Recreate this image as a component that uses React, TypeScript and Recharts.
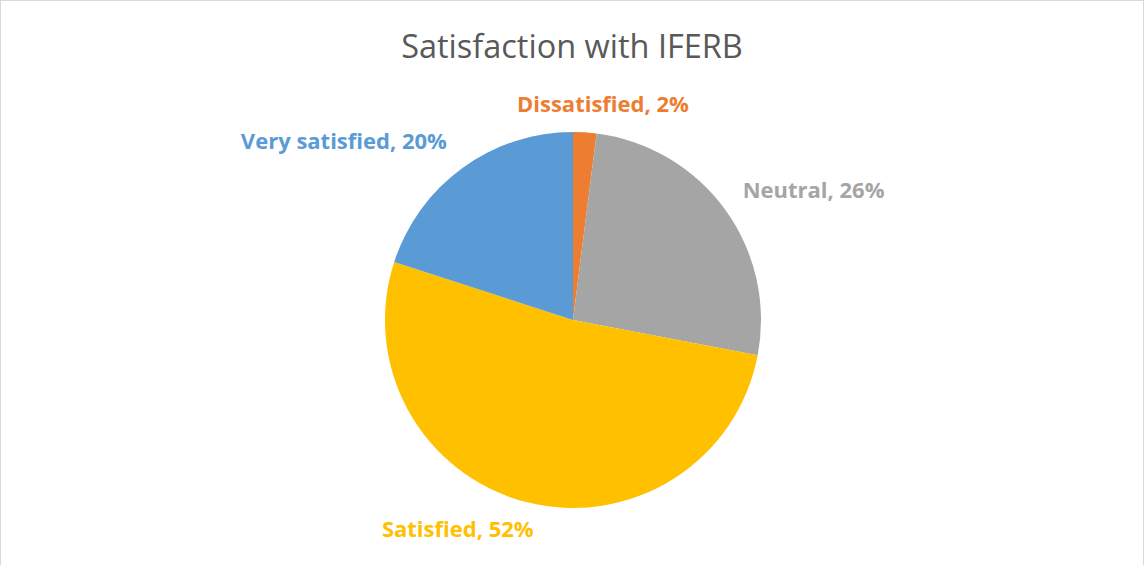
import { Cell, Pie, PieChart } from "recharts";

const CATEGORIES = ["Dissatisfied", "Neutral", "Satisfied", "Very satisfied"];
const SHARES = [2, 26, 52, 20];

const SLICE_COLORS = ["#ED7D31", "#A5A5A5", "#FFC000", "#5B9BD5"];
// small nudges so labels sit where the Excel best-fit placed them
const LABEL_NUDGE: Record<string, [number, number]> = {
  Dissatisfied: [17, -2],
  Neutral: [3, -1],
  Satisfied: [-64, 17],
  "Very satisfied": [-5, -4],
};

const WIDTH = 1144;
const HEIGHT = 565;
const RADIAN = Math.PI / 180;

const data = CATEGORIES.map((name, i) => ({ name, value: SHARES[i] }));

type LabelProps = {
  cx: number;
  cy: number;
  midAngle: number;
  outerRadius: number;
  index: number;
  name: string;
  value: number;
};

function SliceLabel({ cx, cy, midAngle, outerRadius, index, name, value }: LabelProps) {
  const r = outerRadius + 18;
  const cos = Math.cos(-midAngle * RADIAN);
  const sin = Math.sin(-midAngle * RADIAN);
  const [nx, ny] = LABEL_NUDGE[name] ?? [0, 0];
  const x = cx + r * cos + nx;
  const y = cy + r * sin + ny;
  const anchor = cos > 0.3 ? "start" : cos < -0.3 ? "end" : "middle";
  return (
    <text
      x={x}
      y={y}
      fill={SLICE_COLORS[index]}
      textAnchor={anchor}
      fontFamily="'Open Sans', sans-serif"
      fontWeight={700}
      fontSize={22}
    >
      {`${name}, ${value}%`}
    </text>
  );
}

export default function App() {
  return (
    <div
      style={{
        position: "fixed",
        left: 0,
        top: 0,
        width: WIDTH,
        height: HEIGHT,
        background: "#fff",
        boxSizing: "border-box",
        borderLeft: "1px solid #d9d9d9",
        borderTop: "1px solid #d9d9d9",
        borderRight: "1px solid #d9d9d9",
      }}
    >
      <div
        style={{
          position: "absolute",
          top: 22,
          left: 0,
          width: WIDTH - 2,
          textAlign: "center",
          fontFamily: "'Open Sans', sans-serif",
          fontSize: 32.5,
          color: "#595959",
        }}
      >
        Satisfaction with IFERB
      </div>
      <PieChart
        width={WIDTH - 2}
        height={HEIGHT - 1}
        margin={{ top: 0, right: 0, bottom: 0, left: 0 }}
      >
        <Pie
          data={data}
          dataKey="value"
          nameKey="name"
          cx={572}
          cy={319}
          outerRadius={188}
          startAngle={90}
          endAngle={-270}
          stroke="none"
          labelLine={false}
          label={SliceLabel}
          isAnimationActive={false}
        >
          {data.map((d, i) => (
            <Cell key={d.name} fill={SLICE_COLORS[i]} />
          ))}
        </Pie>
      </PieChart>
    </div>
  );
}
